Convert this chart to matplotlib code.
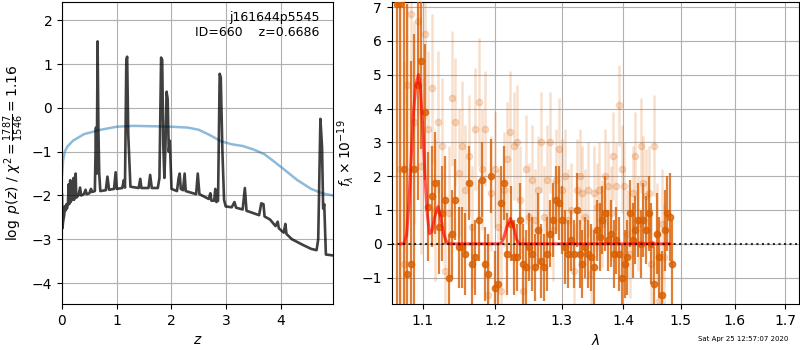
import numpy as np
import matplotlib
matplotlib.use("Agg")
import matplotlib.pyplot as plt
from matplotlib.ticker import FixedLocator, FixedFormatter, NullLocator

# ---------------- left panel data ----------------
z_grid = [0.000, 0.008, 0.02, 0.04, 0.05, 0.06, 0.08, 0.09, 0.11, 0.12, 0.13, 0.15, 0.16, 0.18,
          0.19, 0.21, 0.22, 0.25, 0.26, 0.30, 0.33, 0.35, 0.40, 0.43, 0.45, 0.50, 0.53, 0.55,
          0.60, 0.62, 0.635, 0.65, 0.665, 0.68, 0.70, 0.80, 0.83, 0.86, 0.95, 0.98, 1.00, 1.10,
          1.13, 1.15, 1.175, 1.19, 1.21, 1.25, 1.40, 1.43, 1.45, 1.58, 1.61, 1.64, 1.75, 1.78,
          1.81, 1.83, 1.85, 1.87, 1.89, 1.91, 1.93, 1.95, 1.97, 2.00, 2.10, 2.13, 2.15, 2.17,
          2.21, 2.24, 2.26, 2.45, 2.48, 2.51, 2.68, 2.71, 2.73, 2.78, 2.80, 2.82, 2.85, 2.88,
          2.90, 2.93, 2.96, 2.99, 3.10, 3.15, 3.18, 3.30, 3.34, 3.37, 3.60, 3.64, 3.68, 3.70,
          3.80, 3.90, 3.94, 3.96, 4.05, 4.08, 4.10, 4.20, 4.40, 4.55, 4.65, 4.68, 4.72, 4.75,
          4.77, 4.79, 4.82, 4.95]
log_pz = [-1.98, -2.75, -2.60, -2.45, -2.25, -2.35, -2.20, -2.30, -2.15, -1.75, -2.20, -1.65, -2.15, -1.70,
          -2.10, -1.60, -2.10, -1.50, -2.05, -2.00, -1.82, -2.00, -1.97, -1.87, -1.97, -1.95, -1.85, -1.92,
          -1.90, -0.45, -1.50, 1.52, -0.50, -1.50, -1.90, -1.88, -1.57, -1.87, -1.85, -1.47, -1.85, -1.83,
          -1.65, -1.82, 1.10, 1.17, -0.60, -1.80, -1.83, -1.62, -1.83, -1.83, -1.53, -1.83, -1.83, -1.60,
          1.15, 1.10, -0.85, -1.60, -0.85, 0.37, 0.20, -1.00, -0.75, -1.85, -1.90, -1.60, -1.50, -1.85,
          -1.88, -1.50, -1.90, -1.97, -1.50, -1.97, -2.08, -1.95, -2.12, -2.12, -1.85, -2.15, -2.12, 0.78,
          0.70, -1.00, -2.10, -2.25, -2.27, -2.15, -2.28, -2.32, -1.83, -2.35, -2.45, -2.18, -2.20, -2.48,
          -2.55, -2.70, -2.60, -2.75, -2.85, -2.65, -2.88, -3.00, -3.13, -3.22, -3.25, -3.00, -0.25, -0.90,
          -2.30, -2.20, -3.35, -3.37]

z_chi = [0.0, 0.02, 0.05, 0.1, 0.2, 0.4, 0.7, 1.0, 1.3, 1.7, 2.0, 2.3, 2.5, 2.7, 2.9, 3.1,
         3.3, 3.5, 3.7, 3.9, 4.1, 4.3, 4.55, 4.75, 4.95]
chi_scaled = [-1.55, -1.20, -1.00, -0.88, -0.75, -0.60, -0.50, -0.43, -0.41, -0.42, -0.43, -0.45,
              -0.50, -0.62, -0.76, -0.83, -0.87, -0.95, -1.06, -1.25, -1.45, -1.65, -1.85, -1.95, -2.00]

# ---------------- right panel data ----------------
lam_dark = [1.066, 1.0706, 1.0752, 1.0798, 1.0844, 1.089, 1.0936, 1.0982, 1.1028, 1.1074,
            1.112, 1.1166, 1.1212, 1.1258, 1.1304, 1.135, 1.1396, 1.1442, 1.1488, 1.1534,
            1.158, 1.1626, 1.1672, 1.1718, 1.1764, 1.181, 1.1856, 1.1902, 1.1948, 1.1994,
            1.204, 1.2086, 1.2132, 1.2178, 1.2224, 1.227, 1.2316, 1.2362, 1.2408, 1.2454,
            1.25, 1.2546, 1.2592, 1.2638, 1.2684, 1.273, 1.2776, 1.2822, 1.2868, 1.2914,
            1.296, 1.3006, 1.3052, 1.3098, 1.3144, 1.319, 1.3236, 1.3282, 1.3328, 1.3374,
            1.342, 1.3466, 1.3512, 1.3558, 1.3604, 1.365, 1.3696, 1.3742, 1.3788, 1.3834,
            1.388, 1.3926, 1.3972, 1.4018, 1.4064, 1.411, 1.4156, 1.4202, 1.4248, 1.4294,
            1.434, 1.4386, 1.4432, 1.4478, 1.4524, 1.457, 1.4616, 1.4662, 1.4708, 1.4754,
            1.48, 1.4846]
flux_dark = [7.1, 7.1, 2.2, -0.9, -0.6, 2.2, 4.7, 5.4, 3.9, 1.1,
             1.4, 1.8, 0.5, 0.9, 1.3, -1.0, 0.3, 1.3, -0.1, -0.1,
             -0.3, 1.8, -0.6, -0.4, 0.7, 1.9, -0.6, -0.9, 2.0, -1.3,
             -1.2, 1.2, 1.8, -0.3, 0.6, -0.4, -0.4, 0.7, -0.6, -0.7,
             -0.1, -0.3, -0.7, 0.4, -0.5, -0.7, -0.3, 0.3, 0.7, 1.3,
             1.2, 0.7, -0.1, -0.3, 0.1, -0.3, 1.0, -0.3, -0.6, -0.1,
             -0.3, -0.4, -0.7, 0.4, 0.2, 0.7, 0.9, 0.1, 0.3, -0.3,
             0.1, -0.3, -1.0, -0.6, -0.4, 0.9, 0.1, 0.4, 0.7, 0.0,
             0.7, 0.4, 0.9, 0.0, -1.2, 0.3, -0.4, -1.5, 0.4, 0.9,
             0.8, -0.6]
err_dark = [12.0, 12.0, 10.0, 8.0, 6.0, 4.0, 3.4, 2.6, 2.0, 1.6,
            1.5, 1.5, 1.4, 1.4, 1.3, 1.3, 1.3, 1.2, 1.2, 1.2,
            1.2, 1.1, 1.2, 1.1, 1.2, 1.1, 1.1, 1.2, 1.1, 1.1,
            1.2, 1.1, 1.1, 1.2, 1.1, 1.1, 1.0, 1.1, 1.2, 1.1,
            1.0, 1.1, 1.0, 1.1, 1.1, 1.0, 1.1, 1.0, 1.1, 1.0,
            1.1, 1.0, 1.1, 1.0, 0.9, 1.0, 1.1, 1.0, 1.0, 0.9,
            1.0, 1.0, 1.1, 0.9, 1.0, 1.0, 1.1, 0.9, 1.0, 1.0,
            1.0, 1.1, 1.0, 1.0, 1.1, 1.0, 1.1, 1.0, 1.1, 1.0,
            1.1, 1.0, 1.1, 1.2, 1.1, 1.2, 1.2, 1.3, 1.2, 1.1,
            1.3, 1.3]

lam_light = [1.0705, 1.0751, 1.0797, 1.0843, 1.0889, 1.0935, 1.0981, 1.1027, 1.1073, 1.1119,
             1.1165, 1.1211, 1.1257, 1.1303, 1.1349, 1.1395, 1.1441, 1.1487, 1.1533, 1.1579,
             1.1625, 1.1671, 1.1717, 1.1763, 1.1809, 1.1855, 1.1901, 1.1947, 1.1993, 1.2039,
             1.2085, 1.2131, 1.2177, 1.2223, 1.2269, 1.2315, 1.2361, 1.2407, 1.2453, 1.2499,
             1.2545, 1.2591, 1.2637, 1.2683, 1.2729, 1.2775, 1.2821, 1.2867, 1.2913, 1.2959,
             1.3005, 1.3051, 1.3097, 1.3143, 1.3189, 1.3235, 1.3281, 1.3327, 1.3373, 1.3419,
             1.3465, 1.3511, 1.3557, 1.3603, 1.3649, 1.3695, 1.3741, 1.3787, 1.3833, 1.3879,
             1.3925, 1.3971, 1.4017, 1.4063, 1.4109, 1.4155, 1.4201, 1.4247, 1.4293, 1.4339,
             1.4385, 1.4431, 1.4477, 1.4523, 1.4569, 1.4615, 1.4661, 1.4707]
flux_light = [2.2, -0.6, 4.7, 6.8, 3.6, 6.6, 2.3, 6.2, 3.4, 4.6,
              1.0, 3.6, 2.9, -0.8, 0.9, 4.3, 3.6, 2.1, 2.9, 1.6,
              2.6, 0.5, 3.4, 4.2, 2.2, 3.4, -1.5, 1.5, 2.2, 0.5,
              -1.4, 1.6, 2.5, 3.3, 2.9, 3.0, 1.3, -1.4, 2.2, 0.8,
              1.9, 0.7, 1.6, 3.0, 0.8, 1.9, 3.0, 0.4, 1.9, 2.8,
              1.6, 2.0, 0.7, 1.0, -0.8, 1.6, 2.0, 1.5, 0.8, 1.6,
              -0.9, 1.5, 1.1, 1.6, 0.6, 2.0, 1.7, 0.9, 2.6, 1.7,
              4.1, 2.2, 1.7, 0.3, -0.3, 1.5, 2.6, 0.6, 2.9, 1.8,
              1.4, 1.5, -0.6, 2.9, 0.3, -1.7, 0.6, -0.4]
err_light = [7.0, 6.0, 4.5, 3.2, 3.0, 2.8, 2.6, 2.5, 2.3, 2.2,
             2.1, 2.1, 2.0, 2.0, 2.0, 2.0, 1.9, 1.9, 1.9, 1.9,
             1.8, 1.8, 1.8, 1.9, 1.8, 1.7, 1.8, 1.7, 1.7, 1.7,
             1.7, 1.7, 1.7, 1.8, 1.6, 1.7, 1.6, 1.6, 1.6, 1.6,
             1.6, 1.5, 1.6, 1.5, 1.5, 1.6, 1.5, 1.5, 1.5, 1.5,
             1.5, 1.4, 1.5, 1.4, 1.4, 1.5, 1.4, 1.4, 1.4, 1.4,
             1.4, 1.4, 1.3, 1.4, 1.3, 1.4, 1.3, 1.4, 1.3, 1.3,
             1.2, 1.3, 1.3, 1.3, 1.3, 1.4, 1.3, 1.4, 1.4, 1.4,
             1.4, 1.4, 1.5, 1.5, 1.5, 1.6, 1.6, 1.6]

lam_model = [1.072, 1.076, 1.079, 1.082, 1.085, 1.088, 1.091, 1.0945, 1.097, 1.100, 1.103,
             1.106, 1.109, 1.112, 1.116, 1.1205, 1.124, 1.128, 1.132, 1.136, 1.205, 1.209,
             1.213, 1.217, 1.2222, 1.227, 1.231, 1.235, 1.480]
flux_model = [0.0, 0.02, 0.3, 1.2, 2.6, 3.9, 4.7, 5.0, 4.6, 3.5, 2.0,
              0.9, 0.3, 0.35, 0.8, 1.1, 0.8, 0.3, 0.05, 0.0, 0.0, 0.03,
              0.2, 0.5, 0.75, 0.5, 0.15, 0.0, 0.0]

lam_ticks = [1.1, 1.2, 1.3, 1.4, 1.5, 1.6, 1.7]

# ---------------- figure ----------------
fig = plt.figure(figsize=(8, 3.5), dpi=100)
ax1 = fig.add_axes([0.0775, 0.1314, 0.33875, 0.8629])
ax2 = fig.add_axes([0.4896, 0.1314, 0.5096, 0.8629])

ax1.plot(z_chi, chi_scaled, color='#1f77b4', alpha=0.5, lw=1.8)
ax1.plot(z_grid, log_pz, color='k', alpha=0.75, lw=1.9)
ax1.set_xlim(0, 4.95)
ax1.set_ylim(-4.48, 2.42)
ax1.set_xticks([0, 1, 2, 3, 4])
ax1.set_yticks([-4, -3, -2, -1, 0, 1, 2])
ax1.grid(True)
ax1.set_axisbelow(True)
ax1.set_xlabel('$z$')
ax1.set_ylabel(r'$\log\ p(z)$' + ' / ' + r'$\chi^2=\frac{1787}{1546}=1.16$')
ax1.text(0.95, 0.97, 'j161644p5545\nID=660    z=0.6686', transform=ax1.transAxes,
         ha='right', va='top', fontsize=9, linespacing=1.15)

orange = '#d95f02'
ax2.errorbar(lam_light, flux_light, yerr=err_light, fmt='o', color=orange, alpha=0.2,
             markersize=4.5, elinewidth=1.8, capsize=0, zorder=2)
ax2.errorbar(lam_dark, flux_dark, yerr=err_dark, fmt='o', color=orange, alpha=0.8,
             markersize=4.5, elinewidth=1.6, capsize=0, zorder=3)
ax2.plot(lam_model, flux_model, color='r', alpha=0.65, lw=2.2, zorder=4)
ax2.axhline(0, color='k', ls=':', lw=1.5, alpha=0.8, zorder=5)

ax2.set_xscale('log')
ax2.set_xlim(1.0598, 1.7294)
ax2.set_ylim(-1.78, 7.15)
ax2.xaxis.set_major_locator(FixedLocator(lam_ticks))
ax2.xaxis.set_major_formatter(FixedFormatter([f'{t:.1f}' for t in lam_ticks]))
ax2.xaxis.set_minor_locator(NullLocator())
ax2.set_yticks([-1, 0, 1, 2, 3, 4, 5, 6, 7])
ax2.grid(True)
ax2.set_axisbelow(True)
ax2.set_xlabel(r'$\lambda$')
ax2.set_ylabel(r'$f_\lambda\times10^{-19}$')

fig.text(0.985, 0.022, 'Sat Apr 25 12:57:07 2020', ha='right', va='bottom', fontsize=5)

fig.savefig('out.png', dpi=100)
